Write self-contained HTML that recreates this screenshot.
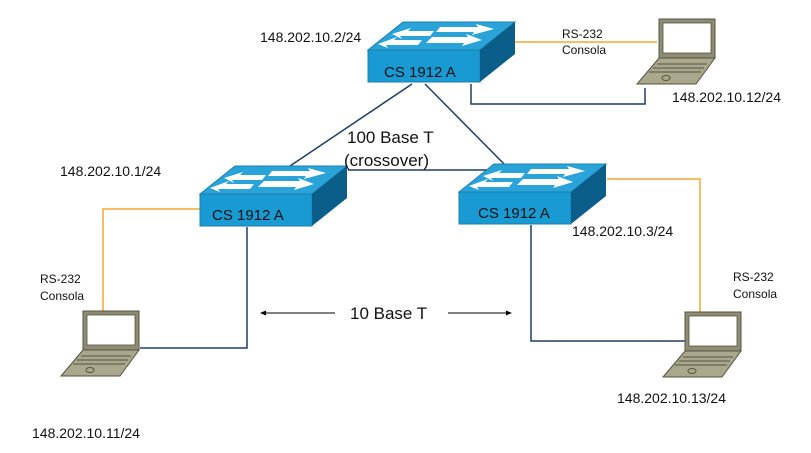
<!DOCTYPE html>
<html><head><meta charset="utf-8"><style>
html,body{margin:0;padding:0;background:#fff;}
svg{display:block;}
text{font-family:"Liberation Sans",Arial,sans-serif;fill:#111;}
</style></head><body>
<svg width="811" height="453" viewBox="0 0 811 453" xmlns="http://www.w3.org/2000/svg">
<defs>
<g id="sw">
  <polygon points="0,28 35,0 147,0 112,28" fill="#2aa4d8" stroke="#1b7fae" stroke-width="1"/>
  <polygon points="0,28 112,28 112,60 0,60" fill="#1a9ad3" stroke="#1b7fae" stroke-width="1"/>
  <polygon points="112,28 147,0 147,32 112,60" fill="#0b5e8a"/>
  <polygon points="72,5 110,5 108,2 126,7 104,13 106,10 68,10" fill="#fff"/>
  <polygon points="66,9 40,9 43,6 24,12 34,17 32,14 62,14" fill="#fff"/>
  <polygon points="64,15 100,15 98,12 114,18 94,24 96,21 58,21" fill="#fff"/>
  <polygon points="54,18 26,18 29,15 10,22 20,26 18,23 50,23" fill="#fff"/>
</g>
<g id="lap">
  <rect x="0" y="0" width="56" height="39" fill="#8e8c74" stroke="#55533f" stroke-width="1"/>
  <rect x="4" y="4" width="48" height="30" fill="#fff" stroke="#55533f" stroke-width="0.8"/>
  <polygon points="0,39 56,39 37,65 -22,65" fill="#a9a78c" stroke="#55533f" stroke-width="1"/>
  <line x1="-2" y1="45" x2="48" y2="45" stroke="#55533f"/>
  <line x1="-6" y1="49" x2="45" y2="49" stroke="#55533f"/>
  <line x1="-10" y1="53" x2="42" y2="53" stroke="#55533f"/>
  <ellipse cx="7" cy="59" rx="4" ry="2.5" fill="none" stroke="#55533f"/>
</g>
</defs>

<g fill="none" stroke-width="1.5">
  <line x1="412" y1="84" x2="290" y2="166" stroke="#1f3d66"/>
  <line x1="425" y1="84" x2="508" y2="168" stroke="#1f3d66"/>
  <polyline points="348,170 490,170" stroke="#1f3d66"/>
  <line x1="480" y1="42" x2="657" y2="42" stroke="#f0a830"/>
  <polyline points="200,209 103,209 103,312" stroke="#f0a830"/>
  <polyline points="607,179 700,179 700,312" stroke="#f0a830"/>
  <polyline points="471,84 471,104 645,104 645,88" stroke="#1f3d66"/>
  <polyline points="247,227 247,348 140,348" stroke="#1f3d66"/>
  <polyline points="531,225 531,341 686,341" stroke="#1f3d66"/>
</g>
<line x1="262" y1="313" x2="335" y2="313" stroke="#000" stroke-width="1"/>
<polygon points="260,313 266,310.5 266,315.5" fill="#000"/>
<line x1="448" y1="313" x2="510" y2="313" stroke="#000" stroke-width="1"/>
<polygon points="512,313 506,310.5 506,315.5" fill="#000"/>

<use href="#sw" x="368" y="22"/>
<use href="#sw" x="200" y="166"/>
<use href="#sw" x="459" y="164"/>

<use href="#lap" x="659" y="19"/>
<use href="#lap" x="83" y="311"/>
<use href="#lap" x="685" y="312"/>

<text x="384" y="77" font-size="15">CS 1912 A</text>
<text x="212" y="220" font-size="15">CS 1912 A</text>
<text x="478" y="218" font-size="15">CS 1912 A</text>
<text x="260" y="42" font-size="14">148.202.10.2/24</text>
<text x="562" y="38" font-size="12">RS-232</text>
<text x="562" y="54" font-size="12">Consola</text>
<text x="672" y="102" font-size="14">148.202.10.12/24</text>
<text x="347" y="143" font-size="17">100 Base T</text>
<text x="344" y="166" font-size="17">(crossover)</text>
<text x="60" y="176" font-size="14">148.202.10.1/24</text>
<text x="572" y="236" font-size="14">148.202.10.3/24</text>
<text x="40" y="283" font-size="12">RS-232</text>
<text x="40" y="300" font-size="12">Consola</text>
<text x="733" y="281" font-size="12">RS-232</text>
<text x="733" y="298" font-size="12">Consola</text>
<text x="350" y="319" font-size="17">10 Base T</text>
<text x="617" y="403" font-size="14">148.202.10.13/24</text>
<text x="32" y="438" font-size="14">148.202.10.11/24</text>
</svg>
</body></html>
